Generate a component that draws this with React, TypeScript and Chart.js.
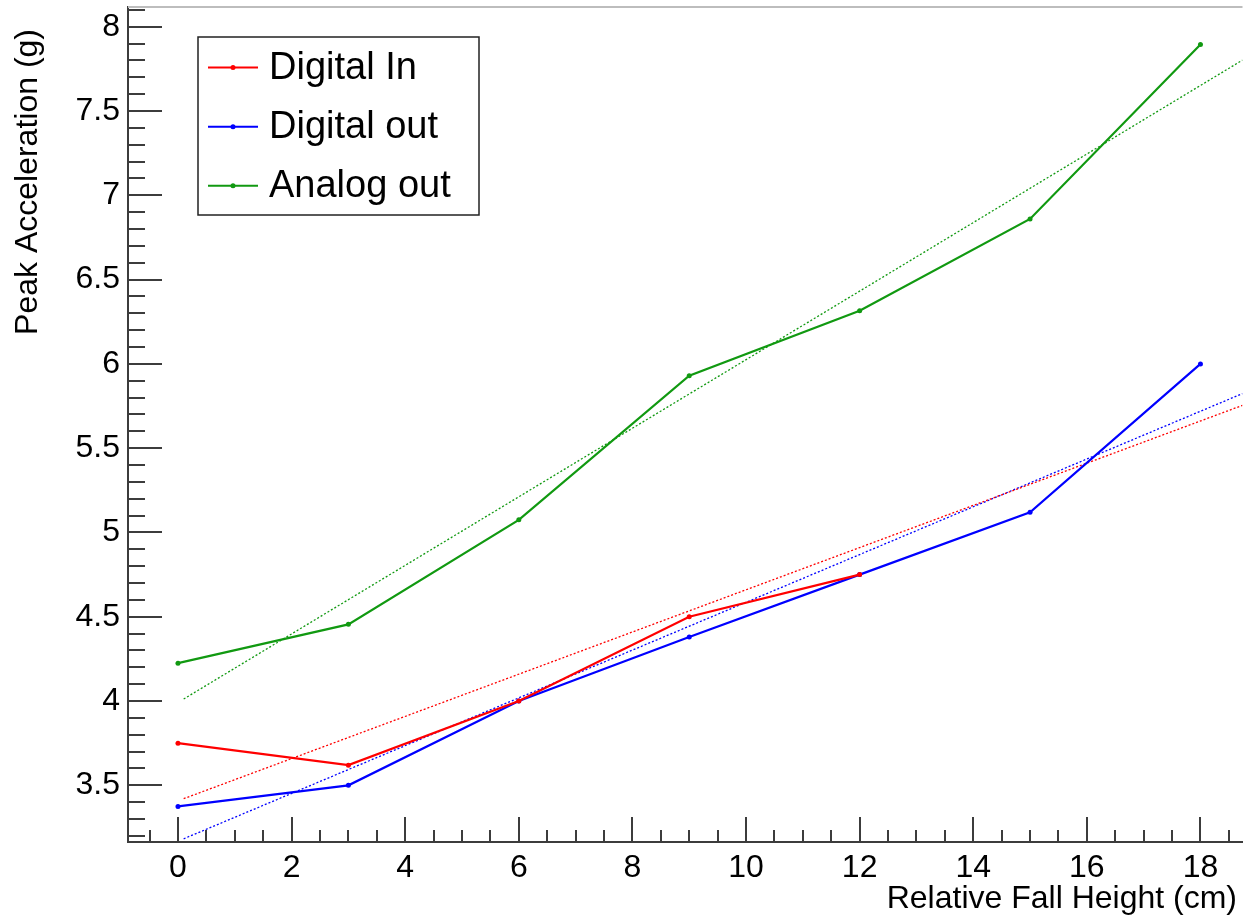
import React, { useEffect, useRef } from "react";
import { Chart, registerables } from "chart.js";

Chart.register(...registerables);

// ---- data ----
const heights = [0, 3, 6, 9, 12, 15, 18];
const digitalIn = [3.75, 3.62, 4.0, 4.5, 4.75];
const digitalOut = [3.375, 3.5, 4.0, 4.38, 4.75, 5.12, 6.0];
const analogOut = [4.225, 4.455, 5.075, 5.93, 6.315, 6.86, 7.895];

// linear fit lines (endpoints)
const fitX = [0.1, 18.74];
const fitDigitalIn = [3.421, 5.754];
const fitDigitalOut = [3.183, 5.824];
const fitAnalogOut = [4.012, 7.802];

// axes
const xTickLabels = [0, 2, 4, 6, 8, 10, 12, 14, 16, 18];
const yTickLabels = [3.5, 4, 4.5, 5, 5.5, 6, 6.5, 7, 7.5, 8];
const xRange = [-0.88, 18.74];
const yRange = [3.164, 8.117];

const seriesNames = ["Digital In", "Digital out", "Analog out"];
const RED = "#ff0000";
const BLUE = "#0000ff";
const GREEN = "#119911";

const FONT = "'Liberation Sans', Arial, Helvetica, sans-serif";

const pts = (xs: number[], ys: number[]) => ys.map((v, i) => ({ x: xs[i], y: v }));

const rootFrame = {
  id: "rootFrame",
  afterDraw(chart: any) {
    const { ctx, chartArea: a, scales } = chart;
    const x = scales.x;
    const y = scales.y;
    ctx.save();
    // top frame line
    ctx.strokeStyle = "#bdbdbd";
    ctx.lineWidth = 2;
    ctx.beginPath();
    ctx.moveTo(a.left, a.top);
    ctx.lineTo(a.right, a.top);
    ctx.stroke();

    // ticks pointing into the frame
    ctx.strokeStyle = "#3c3c3c";
    ctx.lineWidth = 2;
    ctx.beginPath();
    const x0 = Math.ceil(x.min * 2);
    for (let k = x0; k / 2 <= x.max; k++) {
      const v = k / 2;
      const px = Math.round(x.getPixelForValue(v));
      const major = k % 4 === 0;
      const len = major ? 25 : 12;
      ctx.moveTo(px, a.bottom);
      ctx.lineTo(px, a.bottom - len);
    }
    const y0 = Math.ceil(y.min * 10);
    for (let k = y0; k / 10 <= y.max; k++) {
      const v = k / 10;
      const py = Math.round(y.getPixelForValue(v));
      const major = k % 5 === 0;
      const len = major ? 34 : 17;
      ctx.moveTo(a.left, py);
      ctx.lineTo(a.left + len, py);
    }
    ctx.stroke();

    // axis titles
    ctx.fillStyle = "#000";
    ctx.font = `32px ${FONT}`;
    ctx.textAlign = "right";
    ctx.textBaseline = "alphabetic";
    ctx.fillText("Relative Fall Height (cm)", 1237, 908);
    ctx.save();
    ctx.translate(37, 29);
    ctx.rotate(-Math.PI / 2);
    ctx.textAlign = "right";
    ctx.fillText("Peak Acceleration (g)", 0, 0);
    ctx.restore();

    // legend
    const bx = 198, by = 37, bw = 281, bh = 178;
    ctx.fillStyle = "#fff";
    ctx.fillRect(bx, by, bw, bh);
    ctx.strokeStyle = "#222";
    ctx.lineWidth = 1.5;
    ctx.strokeRect(bx, by, bw, bh);
    const rows = [67.5, 126.7, 185.7];
    const ds = chart.data.datasets.slice(0, 3);
    ds.forEach((d: any, i: number) => {
      const ry = rows[i];
      ctx.strokeStyle = d.borderColor;
      ctx.lineWidth = 2;
      ctx.beginPath();
      ctx.moveTo(208, ry);
      ctx.lineTo(258, ry);
      ctx.stroke();
      ctx.fillStyle = d.borderColor;
      ctx.beginPath();
      ctx.arc(233, ry, 2.5, 0, Math.PI * 2);
      ctx.fill();
      ctx.fillStyle = "#000";
      ctx.font = `38px ${FONT}`;
      ctx.textAlign = "left";
      ctx.textBaseline = "middle";
      ctx.fillText(d.label, 269, ry + 1);
    });
    ctx.restore();
  },
};

export default function App() {
  const ref = useRef<HTMLCanvasElement | null>(null);
  useEffect(() => {
    if (!ref.current) return;
    const dataLine = (label: string, ys: number[], color: string) => ({
      label,
      data: pts(heights, ys),
      borderColor: color,
      backgroundColor: color,
      borderWidth: 2.2,
      pointRadius: 2.5,
      pointHoverRadius: 2.5,
      pointBorderWidth: 0,
      tension: 0,
      fill: false,
    });
    const fitLine = (label: string, ys: number[], color: string) => ({
      label,
      data: pts(fitX, ys),
      borderColor: color,
      backgroundColor: color,
      borderWidth: 1.3,
      borderDash: [2, 2],
      pointRadius: 0,
      tension: 0,
      fill: false,
    });
    const chart = new Chart(ref.current, {
      type: "line",
      data: {
        datasets: [
          dataLine(seriesNames[0], digitalIn, RED),
          dataLine(seriesNames[1], digitalOut, BLUE),
          dataLine(seriesNames[2], analogOut, GREEN),
          fitLine("fit " + seriesNames[0], fitDigitalIn, RED),
          fitLine("fit " + seriesNames[1], fitDigitalOut, BLUE),
          fitLine("fit " + seriesNames[2], fitAnalogOut, GREEN),
        ] as any,
      },
      options: {
        animation: false,
        responsive: false,
        devicePixelRatio: 1,
        layout: { padding: { top: 7, left: 0, right: 0, bottom: 0 } },
        plugins: {
          legend: { display: false },
          tooltip: { enabled: false },
          title: { display: false },
        },
        scales: {
          x: {
            type: "linear",
            min: xRange[0],
            max: xRange[1],
            grid: { display: false, drawTicks: false, tickLength: 0 },
            border: { display: true, color: "#3c3c3c", width: 2 },
            afterBuildTicks: (s: any) => {
              s.ticks = xTickLabels.map((v) => ({ value: v }));
            },
            afterFit: (s: any) => {
              s.height = 75;
              s.paddingLeft = 0;
              s.paddingRight = 0;
            },
            ticks: {
              color: "#000",
              font: { family: FONT, size: 32 },
              padding: 7,
              maxRotation: 0,
              autoSkip: false,
              callback: (v: any) => String(v),
            },
          },
          y: {
            type: "linear",
            min: yRange[0],
            max: yRange[1],
            grid: { display: false, drawTicks: false, tickLength: 0 },
            border: { display: true, color: "#3c3c3c", width: 2 },
            afterBuildTicks: (s: any) => {
              s.ticks = yTickLabels.map((v) => ({ value: v }));
            },
            afterFit: (s: any) => {
              s.width = 128;
              s.paddingTop = 0;
              s.paddingBottom = 0;
            },
            ticks: {
              color: "#000",
              font: { family: FONT, size: 32 },
              padding: 8,
              autoSkip: false,
              callback: (v: any) => String(v),
            },
          },
        },
      } as any,
      plugins: [rootFrame],
    });
    return () => chart.destroy();
  }, []);
  return (
    <div style={{ position: "absolute", left: 0, top: 0, width: 1245, height: 917, background: "#fff" }}>
      <canvas ref={ref} width={1245} height={917} style={{ display: "block" }} />
    </div>
  );
}
